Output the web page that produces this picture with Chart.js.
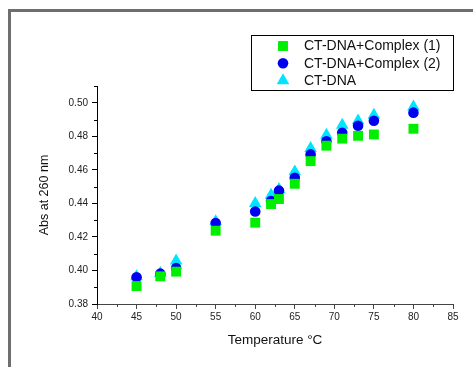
<!DOCTYPE html>
<html>
<head>
<meta charset="utf-8">
<script src="https://cdn.jsdelivr.net/npm/chart.js@4/dist/chart.umd.min.js"></script>
<style>
  html, body { margin: 0; padding: 0; background: #fff; overflow: hidden; }
  #frame { position: absolute; left: 8px; top: 9px; width: 470px; height: 365px;
           border-top: 3px solid #6e6e6e; border-left: 3px solid #6e6e6e; }
  #wrap { position: absolute; left: 0; top: 0; width: 473px; height: 367px; }
</style>
</head>
<body>
<div id="frame"></div>
<div id="wrap"><canvas id="chart" width="473" height="367"></canvas></div>
<script>
const temperatures = [45, 48, 50, 55, 60, 62, 63, 65, 67, 69, 71, 73, 75, 80]
const complex1 = [0.3907, 0.3965, 0.3993, 0.4237, 0.4285, 0.4396, 0.4426, 0.4517, 0.4652, 0.4744, 0.4786, 0.4803, 0.4811, 0.4845]
const complex2 = [0.3959, 0.3981, 0.4015, 0.4283, 0.4352, 0.4414, 0.4476, 0.4553, 0.4692, 0.4770, 0.4821, 0.4863, 0.4893, 0.4941]
const ctDna = [0.3963, 0.3983, 0.4058, 0.4291, 0.4400, 0.4450, 0.4484, 0.4589, 0.4728, 0.4807, 0.4867, 0.4893, 0.4927, 0.4976]
const seriesLabels = ["CT-DNA+Complex (1)", "CT-DNA+Complex (2)", "CT-DNA"]
const xTicks = [40, 45, 50, 55, 60, 65, 70, 75, 80, 85]
const yTicks = [0.38, 0.40, 0.42, 0.44, 0.46, 0.48, 0.50]

const toPoints = values => temperatures.map((t, i) => ({ x: t, y: values[i] }))

// minor ticks and the boxed legend
const extras = {
  id: "extras",
  afterDraw(chart) {
    const ctx = chart.ctx
    const xs = chart.scales.x
    const ys = chart.scales.y
    ctx.save()
    ctx.lineWidth = 1
    ctx.strokeStyle = "#444"
    for (let v = 42.5; v < 85; v += 5) {
      const px = Math.round(xs.getPixelForValue(v)) + 0.5
      ctx.beginPath()
      ctx.moveTo(px, xs.top)
      ctx.lineTo(px, xs.top + 3)
      ctx.stroke()
    }
    ctx.strokeStyle = "#000"
    for (let v = 0.39; v <= 0.515; v += 0.02) {
      const py = Math.round(ys.getPixelForValue(v)) + 0.5
      ctx.beginPath()
      ctx.moveTo(ys.right - 3, py)
      ctx.lineTo(ys.right, py)
      ctx.stroke()
    }

    // legend
    const bx = 251.5, by = 35.5, bw = 202, bh = 55
    ctx.strokeStyle = "#000"
    ctx.strokeRect(bx, by, bw, bh)
    ctx.font = "14px 'Liberation Sans', Arial, sans-serif"
    ctx.textBaseline = "middle"
    chart.data.datasets.forEach((ds, i) => {
      const cy = by + 10.5 + i * 17.3
      ctx.fillStyle = ds.backgroundColor
      Chart.helpers.drawPoint(ctx, {
        pointStyle: ds.pointStyle,
        radius: ds.pointRadius,
        borderWidth: 0
      }, 283, cy)
      ctx.fillStyle = "#111"
      ctx.fillText(ds.label, 304, cy + 0.5)
    })
    ctx.restore()
  }
}

new Chart(document.getElementById("chart"), {
  type: "scatter",
  data: {
    datasets: [
      {
        label: seriesLabels[0],
        data: toPoints(complex1),
        pointStyle: "rect",
        pointRadius: 7,
        backgroundColor: "#00ee00",
        borderColor: "#00ee00",
        borderWidth: 0
      },
      {
        label: seriesLabels[1],
        data: toPoints(complex2),
        pointStyle: "circle",
        pointRadius: 5.3,
        backgroundColor: "#0000ee",
        borderColor: "#0000ee",
        borderWidth: 0
      },
      {
        label: seriesLabels[2],
        data: toPoints(ctDna),
        pointStyle: "triangle",
        pointRadius: 7.3,
        backgroundColor: "#00e5ff",
        borderColor: "#00e5ff",
        borderWidth: 0
      }
    ]
  },
  options: {
    responsive: false,
    animation: false,
    layout: {
      padding: { left: 37, right: 20, top: 86, bottom: 13 }
    },
    scales: {
      x: {
        type: "linear",
        min: 40,
        max: 85,
        afterBuildTicks: scale => { scale.ticks = xTicks.map(v => ({ value: v })) },
        afterFit: scale => { scale.height = 50 },
        border: { color: "#444", width: 1 },
        grid: { drawOnChartArea: false, tickLength: 5, color: "#444" },
        ticks: {
          padding: 2,
          color: "#222",
          font: { family: "'Liberation Sans', Arial, sans-serif", size: 10 }
        },
        title: {
          display: true,
          text: "Temperature °C",
          color: "#111",
          padding: { top: 0, bottom: 6 },
          font: { family: "'Liberation Sans', Arial, sans-serif", size: 13.5 }
        }
      },
      y: {
        type: "linear",
        min: 0.38,
        max: 0.51,
        afterBuildTicks: scale => { scale.ticks = yTicks.map(v => ({ value: v })) },
        afterFit: scale => { scale.width = 60 },
        border: { color: "#000", width: 1 },
        grid: { drawOnChartArea: false, tickLength: 5, color: "#000" },
        ticks: {
          padding: 4,
          color: "#222",
          callback: v => v.toFixed(2),
          font: { family: "'Liberation Sans', Arial, sans-serif", size: 10 }
        },
        title: {
          display: true,
          text: "Abs at 260 nm",
          color: "#111",
          padding: 0,
          font: { family: "'Liberation Sans', Arial, sans-serif", size: 12.5 }
        }
      }
    },
    plugins: {
      legend: { display: false },
      tooltip: { enabled: false }
    }
  },
  plugins: [extras]
})
</script>
</body>
</html>
